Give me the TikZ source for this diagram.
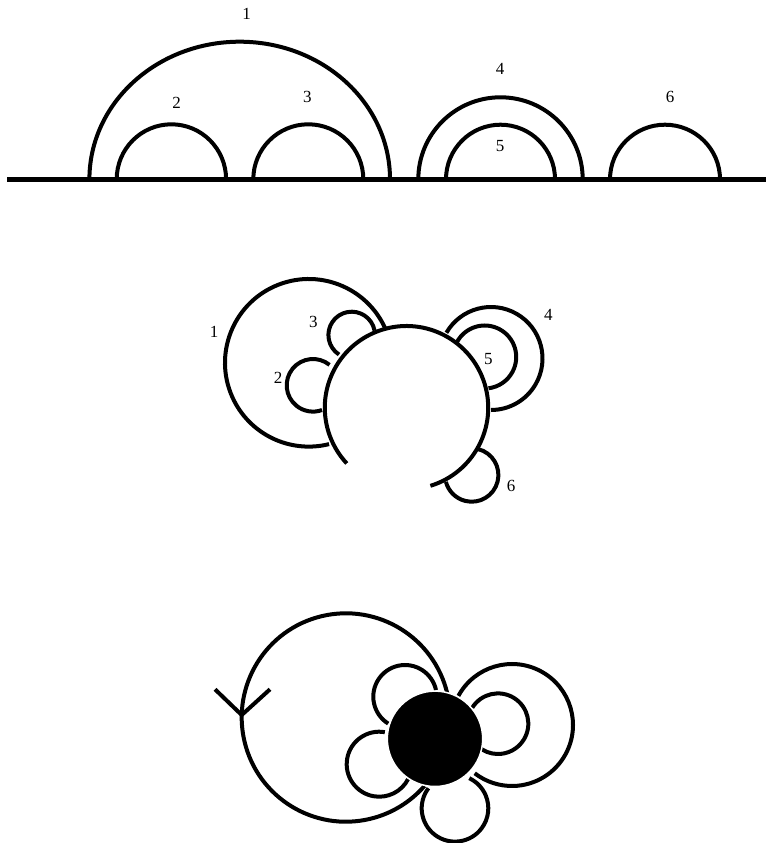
\documentclass[tikz,border=0pt]{standalone}
\usepackage{fontspec}
\setmainfont{Liberation Serif}
\usepackage{tikz}
\usetikzlibrary{calc}
\tikzset{
  cdbackbone/.style={line width=5pt},
  cdchord/.style={line width=4pt,line cap=butt},
  cdhub/.style={fill=black,draw=white,line width=1.5pt},
  cdlabel/.style={font=\fontsize{17}{20}\selectfont,inner sep=0pt}
}
\begin{document}
\begin{tikzpicture}[x=1pt,y=1pt]
  \useasboundingbox (0,0) rectangle (766,-843);
  % linear chord diagram
  \coordinate (bl) at (7,-179.3);
  \coordinate (br) at (766,-179.3);
  \coordinate (fta) at (239.7,-179.3);
  \coordinate (ftb) at (171.4,-179.3);
  \coordinate (ftc) at (308.3,-179.3);
  \coordinate (ftd) at (500.5,-179.3);
  \coordinate (fte) at (500.5,-179.3);
  \coordinate (ftf) at (665,-179.3);
  \draw[cdchord] ([xshift=-150.3pt]fta) arc[start angle=180,end angle=0,x radius=150.3pt,y radius=137.6pt];
  \draw[cdchord] ([xshift=-54.7pt]ftb) arc[start angle=180,end angle=0,x radius=54.7pt,y radius=55pt];
  \draw[cdchord] ([xshift=-55pt]ftc) arc[start angle=180,end angle=0,x radius=55pt,y radius=55pt];
  \draw[cdchord] ([xshift=-82.2pt]ftd) arc[start angle=180,end angle=0,x radius=82.2pt,y radius=82pt];
  \draw[cdchord] ([xshift=-54.5pt]fte) arc[start angle=180,end angle=0,x radius=54.5pt,y radius=54.6pt];
  \draw[cdchord] ([xshift=-55pt]ftf) arc[start angle=180,end angle=0,x radius=55pt,y radius=54.6pt];
  \draw[cdbackbone] (bl) -- (br);
  \node[cdlabel] (ta) at (246.7,-14.2) {1};
  \node[cdlabel] (tb) at (176.7,-102.7) {2};
  \node[cdlabel] (tc) at (307.3,-96.7) {3};
  \node[cdlabel] (td) at (500,-69.3) {4};
  \node[cdlabel] (te) at (500,-145.7) {5};
  \node[cdlabel] (tf) at (670,-96.7) {6};
  % circular backbone with loops
  \coordinate (hm) at (406.5,-407.7);
  \coordinate (ma) at (308.8,-362.8);
  \coordinate (mb) at (313,-385.3);
  \coordinate (mc) at (351.7,-335);
  \coordinate (md) at (491,-358.5);
  \coordinate (me) at (484.7,-357);
  \coordinate (mf) at (471.7,-475);
  \draw[cdchord] ([shift={(-73:81.7pt)}]hm) arc[start angle=-73,end angle=223,radius=81.7pt];
  \draw[cdchord] ([shift={(24:83.8pt)}]ma) arc[start angle=24,end angle=284,radius=83.8pt];
  \draw[cdchord] ([shift={(51:26.3pt)}]mb) arc[start angle=51,end angle=290,radius=26.3pt];
  \draw[cdchord] ([shift={(11:23.3pt)}]mc) arc[start angle=11,end angle=237,radius=23.3pt];
  \draw[cdchord] ([shift={(150:51.5pt)}]md) arc[start angle=150,end angle=-90,radius=51.5pt];
  \draw[cdchord] ([shift={(152:31.5pt)}]me) arc[start angle=152,end angle=-83,radius=31.5pt];
  \draw[cdchord] ([shift={(76:26.7pt)}]mf) arc[start angle=76,end angle=-165,radius=26.7pt];
  \node[cdlabel] (la) at (214,-331.7) {1};
  \node[cdlabel] (lb) at (278,-377.7) {2};
  \node[cdlabel] (lc) at (313.3,-322.3) {3};
  \node[cdlabel] (ld) at (548.3,-315) {4};
  \node[cdlabel] (le) at (488.3,-359.3) {5};
  \node[cdlabel] (lf) at (511,-485.7) {6};
  % fat graph with one vertex
  \coordinate (hb) at (435,-738.8);
  \coordinate (oa) at (345.9,-717.5);
  \coordinate (ob) at (405,-696.7);
  \coordinate (oc) at (379.2,-764.2);
  \coordinate (od) at (512,-725);
  \coordinate (oe) at (498,-723.7);
  \coordinate (of) at (455,-808.3);
  \coordinate (vl) at (215,-689.3);
  \coordinate (vt) at (241.7,-715);
  \coordinate (vr) at (270,-689.3);
  \draw[cdchord] ([shift={(13.4:104.2pt)}]oa) arc[start angle=13.4,end angle=319,radius=104.2pt];
  \draw[cdchord] ([shift={(12:31.7pt)}]ob) arc[start angle=12,end angle=238,radius=31.7pt];
  \draw[cdchord] ([shift={(80:32.5pt)}]oc) arc[start angle=80,end angle=333,radius=32.5pt];
  \draw[cdchord] ([shift={(151.5:61pt)}]od) arc[start angle=151.5,end angle=-127.7,radius=61pt];
  \draw[cdchord] ([shift={(148:30.3pt)}]oe) arc[start angle=148,end angle=-130.6,radius=30.3pt];
  \draw[cdchord] ([shift={(143:33.3pt)}]of) arc[start angle=143,end angle=424.6,radius=33.3pt];
  \draw[cdchord] (vl) -- (vt) -- (vr);
  \filldraw[cdhub] (hb) circle[radius=47.7pt];
\end{tikzpicture}
\end{document}
